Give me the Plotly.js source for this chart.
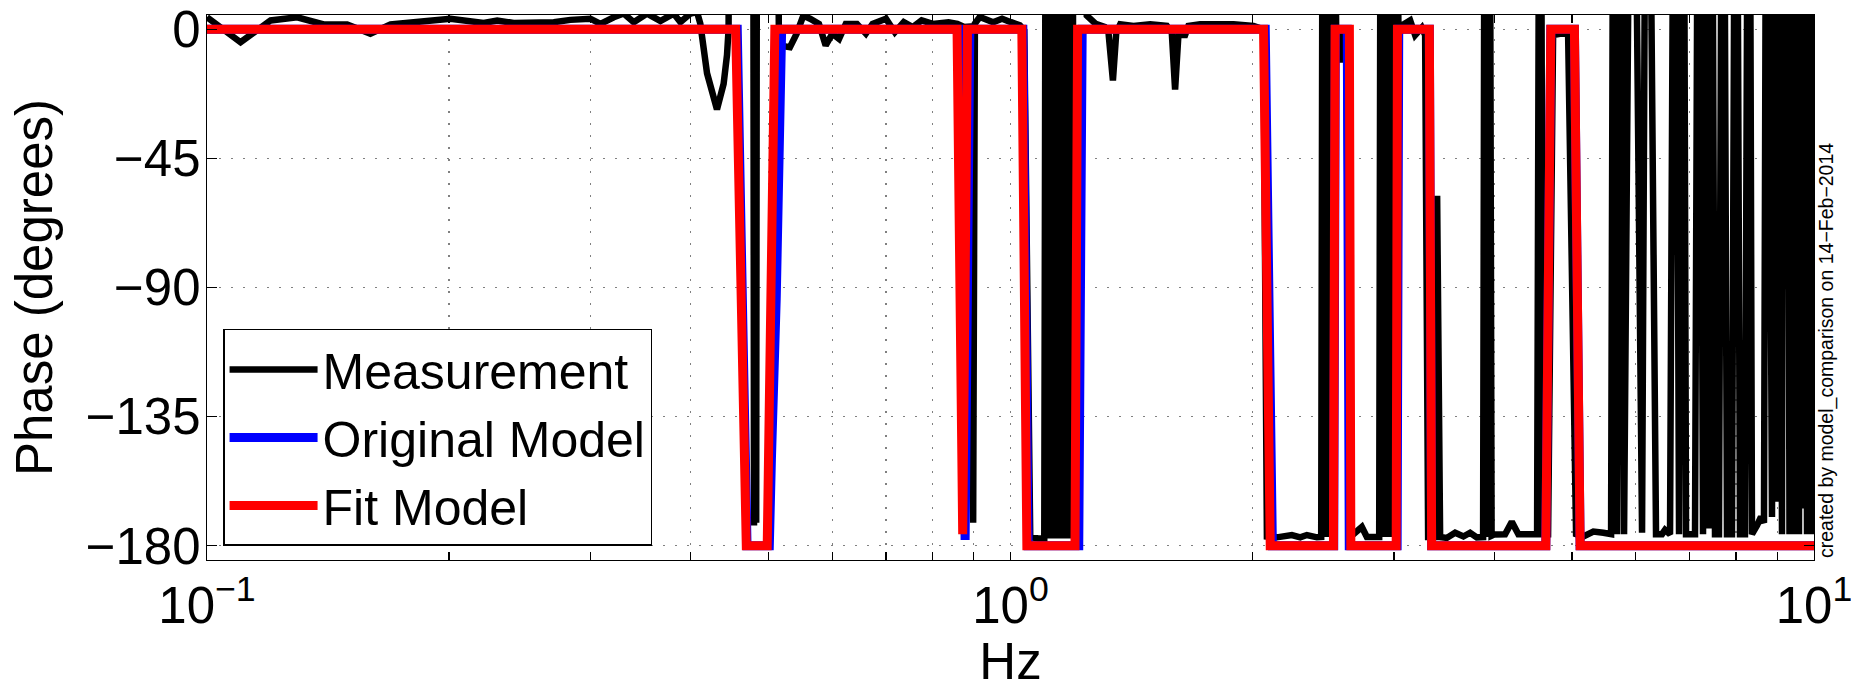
<!DOCTYPE html>
<html>
<head>
<meta charset="utf-8">
<script src="https://cdn.plot.ly/plotly-3.0.1.min.js"></script>
<style>
html,body{margin:0;padding:0;background:#ffffff;}
#chart{width:1851px;height:690px;}
</style>
</head>
<body>
<div id="chart"></div>
<script>
// ---- Data ----
const measFreq = [0.1, 0.1101, 0.12, 0.1295, 0.1397, 0.1494, 0.1597, 0.1692, 0.1808, 0.2009, 0.221, 0.2297, 0.2408, 0.2701, 0.2833, 0.3, 0.3088, 0.3208, 0.3301, 0.3397, 0.353, 0.3667, 0.3808, 0.3883, 0.3996, 0.4073, 0.4111, 0.4191, 0.4312, 0.4395, 0.4438, 0.4458, 0.448, 0.478, 0.4795, 0.481, 0.4825, 0.484, 0.5096, 0.515, 0.5315, 0.5418, 0.5523, 0.563, 0.5776, 0.5888, 0.6002, 0.6118, 0.6237, 0.644, 0.6607, 0.6735, 0.6999, 0.7179, 0.7365, 0.7556, 0.7752, 0.8006, 0.8372, 0.8586, 0.8754, 0.893, 0.8985, 0.903, 0.9157, 0.9515, 0.9761, 1.0013, 1.0271, 1.0402, 1.0582, 1.0828, 1.1016, 1.1079, 1.1143, 1.1208, 1.1272, 1.1337, 1.1402, 1.1467, 1.1533, 1.16, 1.1666, 1.1733, 1.1801, 1.1869, 1.1937, 1.1985, 1.2443, 1.2766, 1.31, 1.3243, 1.3411, 1.3539, 1.3695, 1.4226, 1.4923, 1.5651, 1.5877, 1.6027, 1.618, 1.6494, 1.665, 1.7218, 1.8948, 2.0065, 2.0648, 2.085, 2.1456, 2.2398, 2.2938, 2.3382, 2.4062, 2.436, 2.45, 2.4641, 2.4783, 2.4925, 2.5068, 2.5431, 2.5724, 2.5942, 2.6166, 2.6468, 2.7369, 2.7765, 2.8572, 2.8764, 2.893, 2.9093, 2.9261, 2.943, 2.9597, 2.9768, 2.9938, 3.0396, 3.1432, 3.1886, 3.2503, 3.2812, 3.3095, 3.3669, 3.396, 3.4252, 3.4915, 3.5755, 3.6616, 3.7325, 3.8048, 3.8741, 3.8964, 3.9188, 3.9413, 3.9696, 3.9982, 4.1262, 4.2062, 4.2865, 4.4747, 4.5224, 4.5614, 4.6007, 4.6672, 4.7346, 4.9424, 5.0569, 5.1638, 5.3139, 5.4685, 5.5905, 5.6387, 5.6874, 5.7529, 5.8025, 5.937, 6.1094, 6.1976, 6.359, 6.4692, 6.5251, 6.6195, 6.715, 6.7925, 6.8706, 6.93, 7.1109, 7.1928, 7.2757, 7.3594, 7.4017, 7.4443, 7.5299, 7.6165, 7.7042, 7.7929, 7.9055, 7.9965, 8.0886, 8.2055, 8.3001, 8.3716, 8.4925, 8.5903, 8.6646, 8.7393, 8.8657, 8.9424, 8.9937, 9.0455, 9.1236, 9.1629, 9.2023, 9.2552, 9.3218, 9.3486, 9.3807, 9.4157, 9.4698, 9.5243, 9.579, 9.6204, 9.662, 9.7175, 9.8014, 9.886, 9.9714, 10];
const measPhase = [4.2, -4.5, 3.1, 4.2, 1.7, 1.7, -1.5, 1.7, 2.5, 3.7, 2.2, 3.1, 2.2, 2.5, 3.3, 3.7, 1.9, 4.2, 5.5, 2.5, 5.5, 2.9, 5.5, 2.5, 5.5, 6, 2, -15.3, -27.9, -19, -8.9, 0, 179, 179, -173, 179, -172, 179, 179, -5.6, -6.2, -1.5, 4.8, 3.7, 1.9, -5.6, -1.5, -3.3, 1.9, 1.9, -1.5, 1.9, 3.7, -1, 2.5, 0.8, 3.1, 1.9, 2.5, 1.9, 0.8, 1, -172, 2, 4.3, 2.5, 3.7, 2.5, 1.4, -0.4, -177, -177.5, -177.5, 179, -177.5, 179, -177.5, 179, -177.5, 179, -177.5, 179, -177.5, 179, -177.5, 179, -177.5, 179, 4.8, 1.9, 0.8, -1.3, -17.8, -1.3, 1.8, 1.2, 1.8, 1.2, -1.3, -21, -2, -2, 1.2, 1.8, 1.8, 1.2, 0, -176.8, -177.1, -176.3, -177.1, -176.3, -177.1, -177, 179, -177, 179, -177, 179, -1.5, -11.5, -1.5, -3, -177, -173.5, -177, -177, -177, 179, -177, 179, -177, 179, -177, 179, 0.6, 3.1, -2, 0.6, -2, -177, -177, -58, -177, -177.3, -175.5, -176.8, -175.5, -177.1, -177, 179, -177, 179, -176.5, -176.1, -176, -171.7, -176, -176, -176, 179, -176, -176, -2, -1, -176, -176.8, -175.1, -175.5, -176, 179, -176, 179, -176, 179, -175.5, 179, -176, -176, -174.5, -176, 179, -176, 179, -176, -176, 179, -176, 179, -174, 179, -176, -176, 179, -176, -176, 179, -176, -176, 179, -176, -173, -170, -172, 179, -170, 179, -164.7, 179, -176, 179, -90.6, 179, -176, 179, -137.5, 179, -176, -15, -176, 179, -167, 179, -176, 179, -176, 179];

const origFreq = [0.1, 0.457, 0.470, 0.501, 0.504, 0.511, 0.519, 0.862, 0.878, 0.890, 1.036, 1.052, 1.216, 1.228, 2.075, 2.118, 2.525, 2.537, 2.625, 2.640, 3.028, 3.042, 3.321, 3.343, 4.637, 4.704, 5.033, 5.116, 10];
const origPhase = [0, 0, -180, -180, -150, -94, 0, 0, -178, 0, 0, -180, -180, 0, 0, -180, -180, 0, 0, -180, -180, 0, 0, -180, -180, 0, 0, -180, -180];

const fitFreq = [0.1, 0.455, 0.469, 0.498, 0.509, 0.858, 0.872, 0.884, 1.033, 1.048, 1.203, 1.212, 2.065, 2.105, 2.523, 2.535, 2.641, 2.652, 3.020, 3.031, 3.321, 3.343, 4.637, 4.704, 5.033, 5.116, 10];
const fitPhase = [0, 0, -180, -180, 0, 0, -176, 0, 0, -180, -180, 0, 0, -180, -180, 0, 0, -180, -180, 0, 0, -180, -180, 0, 0, -180, -180];

const seriesNames = ['Measurement', 'Original Model', 'Fit Model'];
const xTickVals = [0.1, 1, 10];
const xTickText = ['10<sup>\u22121</sup>', '10<sup>0</sup>', '10<sup>1</sup>'];
const xMinorVals = [0.2, 0.3, 0.4, 0.5, 0.6, 0.7, 0.8, 0.9, 2, 3, 4, 5, 6, 7, 8, 9];
const yTickVals = [-180, -135, -90, -45, 0];
const xTitle = 'Hz';
const yTitle = 'Phase (degrees)';
const stampText = 'created by model_comparison on 14\u2212Feb\u22122014';

// ---- Figure ----
const FONT = 'Liberation Sans, Arial, Helvetica, sans-serif';
const gridStyle = {showgrid: true, gridcolor: '#808080', gridwidth: 1.3, griddash: '2px,10px'};

const traces = [
  {x: measFreq, y: measPhase, name: seriesNames[0], type: 'scatter', mode: 'lines',
   line: {color: '#000000', width: 6.5, simplify: false}},
  {x: origFreq, y: origPhase, name: seriesNames[1], type: 'scatter', mode: 'lines',
   line: {color: '#0000ff', width: 9, simplify: false}},
  {x: fitFreq, y: fitPhase, name: seriesNames[2], type: 'scatter', mode: 'lines',
   line: {color: '#ff0000', width: 9, simplify: false}}
];

const layout = {
  width: 1851, height: 690,
  margin: {l: 207, r: 37, t: 15, b: 130, pad: 0},
  paper_bgcolor: '#ffffff', plot_bgcolor: '#ffffff',
  font: {family: FONT, color: '#000000', size: 51},
  showlegend: true,
  legend: {
    x: 0.01, y: 0.0257, xanchor: 'left', yanchor: 'bottom',
    bgcolor: '#ffffff', bordercolor: '#000000', borderwidth: 1.5,
    font: {family: FONT, size: 50, color: '#000000'},
    itemwidth: 88, tracegroupgap: 0
  },
  xaxis: Object.assign({
    type: 'log', range: [-1, 1],
    showline: true, linecolor: '#000000', linewidth: 1.3, mirror: 'ticks',
    ticks: 'inside', ticklen: 8, tickwidth: 1.3, tickcolor: '#000000',
    tickmode: 'array', tickvals: xTickVals, ticktext: xTickText,
    tickfont: {family: FONT, size: 51, color: '#000000'},
    ticklabelstandoff: 0, ticklabeloverflow: 'allow',
    zeroline: false,
    minor: Object.assign({tickmode: 'array', tickvals: xMinorVals, ticks: 'inside',
      ticklen: 8, tickwidth: 1.3, tickcolor: '#000000'}, gridStyle),
    title: {text: xTitle, font: {family: FONT, size: 51, color: '#000000'}, standoff: 49}
  }, gridStyle),
  yaxis: Object.assign({
    range: [-185, 5],
    showline: true, linecolor: '#000000', linewidth: 1.3, mirror: 'ticks',
    ticks: 'inside', ticklen: 10, tickwidth: 1.3, tickcolor: '#000000',
    tickmode: 'array', tickvals: yTickVals,
    tickfont: {family: FONT, size: 51, color: '#000000'},
    ticklabelstandoff: -5,
    zeroline: false,
    title: {text: yTitle, font: {family: FONT, size: 51, color: '#000000'}, standoff: 16}
  }, gridStyle),
  annotations: [{
    text: stampText, xref: 'paper', yref: 'paper', x: 1.0078, y: 0,
    xanchor: 'center', yanchor: 'bottom', textangle: -90, showarrow: false,
    font: {family: FONT, size: 19.5, color: '#000000'}
  }]
};

Plotly.newPlot('chart', traces, layout, {displayModeBar: false, staticPlot: true});
</script>
</body>
</html>
